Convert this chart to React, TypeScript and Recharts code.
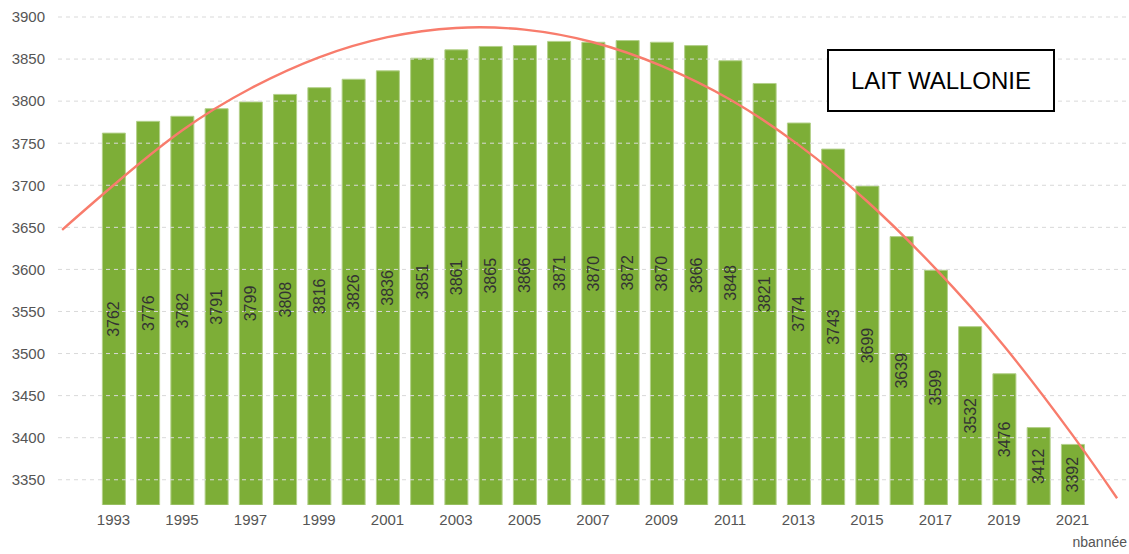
import React from "react";
import {
  ComposedChart,
  Bar,
  Line,
  XAxis,
  YAxis,
  ReferenceLine,
  LabelList,
} from "recharts";

const years = [
  1993, 1994, 1995, 1996, 1997, 1998, 1999, 2000, 2001, 2002, 2003, 2004,
  2005, 2006, 2007, 2008, 2009, 2010, 2011, 2012, 2013, 2014, 2015, 2016,
  2017, 2018, 2019, 2020, 2021,
];
const milk = [
  3762, 3776, 3782, 3791, 3799, 3808, 3816, 3826, 3836, 3851, 3861, 3865,
  3866, 3871, 3870, 3872, 3870, 3866, 3848, 3821, 3774, 3743, 3699, 3639,
  3599, 3532, 3476, 3412, 3392,
];

// trend curve
const trendYears = [
  1991.5, 1993, 1995, 1997, 1999, 2001, 2003, 2005, 2007, 2009, 2011, 2013,
  2015, 2017, 2019, 2021, 2022.3,
];
const trendValues = [
  3647, 3700, 3765, 3815, 3852, 3876, 3887, 3885, 3870, 3842, 3802, 3748,
  3681, 3601, 3509, 3403, 3328,
];

const xTicks = [
  1993, 1995, 1997, 1999, 2001, 2003, 2005, 2007, 2009, 2011, 2013, 2015,
  2017, 2019, 2021,
];
const yTicks = [3350, 3400, 3450, 3500, 3550, 3600, 3650, 3700, 3750, 3800, 3850, 3900];

const data = years.map((y, i) => ({ year: y, value: milk[i] }));
const trend = trendYears.map((y, i) => ({ year: y, trend: trendValues[i] }));

const FONT = "'Liberation Sans', Arial, sans-serif";

function VerticalLabel(props: any) {
  const { x, y, width, height, value } = props;
  const cx = x + width / 2;
  const cy = y + height / 2;
  return (
    <text
      x={cx}
      y={cy}
      transform={`rotate(-90, ${cx}, ${cy})`}
      textAnchor="middle"
      dominantBaseline="central"
      fontSize={16}
      fill="#333"
      fontFamily={FONT}
    >
      {value}
    </text>
  );
}

export default function App() {
  return (
    <div style={{ position: "absolute", left: 0, top: 0, width: 1129, height: 554, background: "#fff" }}>
      <ComposedChart
        width={1129}
        height={554}
        data={data}
        margin={{ top: 17, right: 2, left: 0, bottom: 0 }}
        style={{ fontFamily: FONT }}
      >
        <XAxis
          dataKey="year"
          type="number"
          domain={[1991.38, 2022.59]}
          ticks={xTicks}
          allowDataOverflow
          axisLine={false}
          tickLine={false}
          tickSize={0}
          tickMargin={9}
          height={49}
          tick={{ fill: "#555", fontSize: 15 }}
          interval={0}
        />
        <YAxis
          domain={[3320, 3900]}
          ticks={yTicks}
          allowDataOverflow
          axisLine={false}
          tickLine={false}
          tickSize={0}
          tickMargin={13}
          width={58}
          tick={{ fill: "#555", fontSize: 15 }}
        />
        {yTicks.map((t) => (
          <ReferenceLine key={t} y={t} stroke="#d9d9d9" strokeDasharray="4 4" />
        ))}
        <Bar
          dataKey="value"
          fill="#7dae37"
          stroke="#b3d08a"
          strokeWidth={1}
          barSize={23}
          isAnimationActive={false}
        >
          <LabelList dataKey="value" content={<VerticalLabel />} />
        </Bar>
        <Line
          data={trend}
          dataKey="trend"
          type="natural"
          stroke="#f87c6c"
          strokeWidth={2.4}
          dot={false}
          activeDot={false}
          isAnimationActive={false}
        />
      </ComposedChart>
      <div
        style={{
          position: "absolute",
          left: 827,
          top: 49,
          width: 228,
          height: 63,
          boxSizing: "border-box",
          border: "2px solid #000",
          background: "#fff",
          display: "flex",
          alignItems: "center",
          justifyContent: "center",
          fontFamily: FONT,
          fontSize: 24,
          color: "#000",
        }}
      >
        LAIT WALLONIE
      </div>
      <div
        style={{
          position: "absolute",
          right: 2,
          top: 534,
          fontFamily: FONT,
          fontSize: 14,
          color: "#555",
        }}
      >
        nbannée
      </div>
    </div>
  );
}
